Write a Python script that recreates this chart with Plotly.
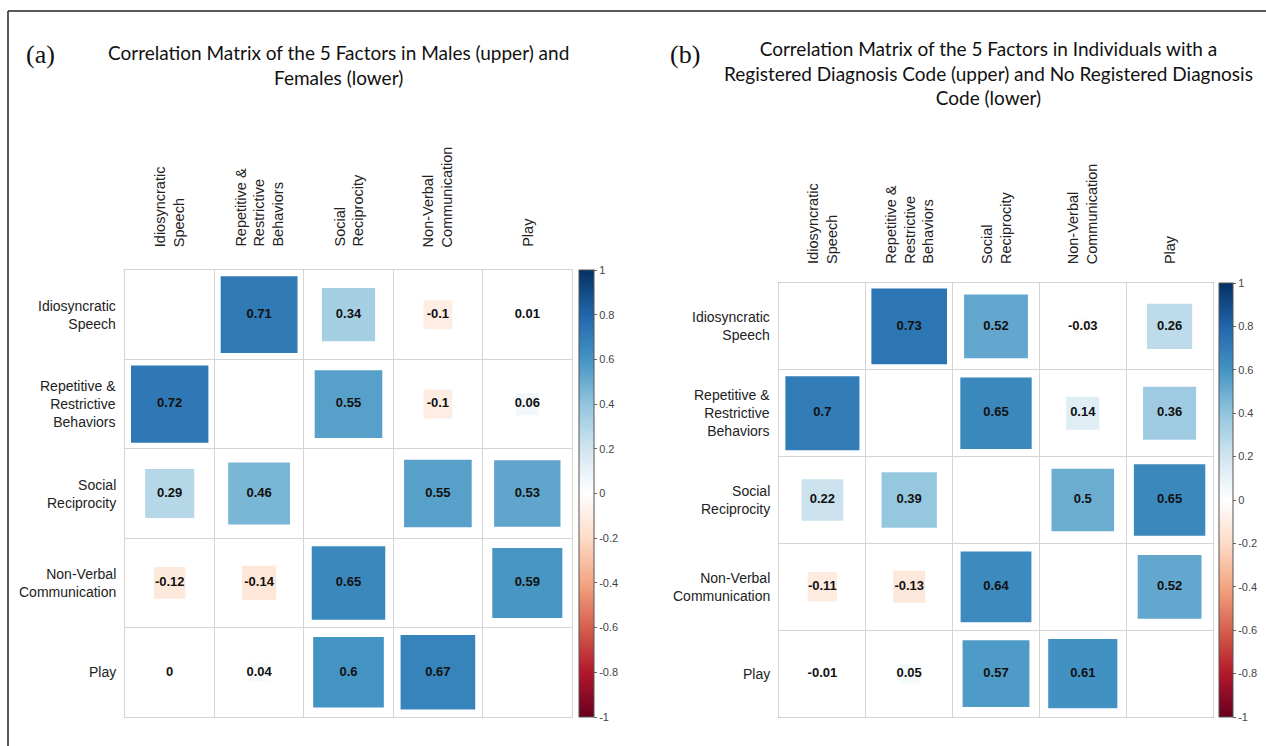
import numpy as np
import plotly.graph_objects as go

W, H = 1266, 746

factors = ["Idiosyncratic Speech", "Repetitive & Restrictive Behaviors",
           "Social Reciprocity", "Non-Verbal Communication", "Play"]
row_labels = ["Idiosyncratic<br>Speech", "Repetitive &<br>Restrictive<br>Behaviors",
              "Social<br>Reciprocity", "Non-Verbal<br>Communication", "Play"]
col_labels = row_labels

# Panel (a): upper = males, lower = females (None on diagonal)
corr_a = [
    [None, 0.71, 0.34, -0.1, 0.01],
    [0.72, None, 0.55, -0.1, 0.06],
    [0.29, 0.46, None, 0.55, 0.53],
    [-0.12, -0.14, 0.65, None, 0.59],
    [0, 0.04, 0.6, 0.67, None],
]
# Panel (b): upper = registered diagnosis code, lower = no registered code
corr_b = [
    [None, 0.73, 0.52, -0.03, 0.26],
    [0.7, None, 0.65, 0.14, 0.36],
    [0.22, 0.39, None, 0.5, 0.65],
    [-0.11, -0.13, 0.64, None, 0.52],
    [-0.01, 0.05, 0.57, 0.61, None],
]

title_a = "Correlation Matrix of the 5 Factors in Males (upper) and<br>Females (lower)"
title_b = ("Correlation Matrix of the 5 Factors in Individuals with a<br>"
           "Registered Diagnosis Code (upper) and No Registered Diagnosis<br>Code (lower)")

cbar_ticks = [1, 0.8, 0.6, 0.4, 0.2, 0, -0.2, -0.4, -0.6, -0.8, -1]
cbar_ticktext = ["1", "0.8", "0.6", "0.4", "0.2", "0", "-0.2", "-0.4", "-0.6", "-0.8", "-1"]

rdbu = ["#67001F", "#B2182B", "#D6604D", "#F4A582", "#FDDBC7", "#FFFFFF",
        "#D1E5F0", "#92C5DE", "#4393C3", "#2166AC", "#053061"]
colorscale = [[i / 10, c] for i, c in enumerate(rdbu)]


def fx(px):
    return px / W


def fy(py):
    return 1 - py / H


panels = [
    dict(mat=corr_a, xd=(125, 572), yd=(270, 717), xa="x", ya="y", cax="coloraxis",
         cb_left=579, cb_th=15, rowlab_right=118, collab_bottom=249,
         tag="(a)", tag_xy=(40, 55), title=title_a, title_xy=(338, 65)),
    dict(mat=corr_b, xd=(779, 1213), yd=(283, 717), xa="x2", ya="y2", cax="coloraxis2",
         cb_left=1219, cb_th=14, rowlab_right=772, collab_bottom=266,
         tag="(b)", tag_xy=(685, 55), title=title_b, title_xy=(988, 73)),
]

fig = go.Figure()
annotations = []
layout = dict(width=W, height=H, margin=dict(l=0, r=0, t=0, b=0),
              paper_bgcolor="white", plot_bgcolor="white", showlegend=False)

row_font = dict(family="Liberation Sans, Arial", size=14, color="#222")
col_font = dict(family="Liberation Sans, Arial", size=14.5, color="#222")

for k, p in enumerate(panels):
    n = len(factors)
    cell = (p["xd"][1] - p["xd"][0]) / n
    xs, ys, vals, sizes, texts = [], [], [], [], []
    for i in range(n):
        for j in range(n):
            v = p["mat"][i][j]
            if v is None:
                continue
            xs.append(j + 1)
            ys.append(i + 1)
            vals.append(v)
            sizes.append(float(np.sqrt(abs(v)) * cell * 1.02))
            texts.append(f"{v:g}")
    fig.add_trace(go.Scatter(
        x=xs, y=ys, mode="markers", xaxis=p["xa"], yaxis=p["ya"], opacity=1,
        marker=dict(symbol="square", size=sizes, color=vals, coloraxis=p["cax"],
                    opacity=1, line=dict(width=0)),
        hoverinfo="skip"))
    fig.add_trace(go.Scatter(
        x=xs, y=ys, mode="text", text=texts, xaxis=p["xa"], yaxis=p["ya"],
        textfont=dict(family="Liberation Sans, Arial", size=13, color="#111", weight="bold"),
        textposition="middle center", hoverinfo="skip"))

    suffix = "" if k == 0 else "2"
    grid_vals = [g + 0.5 for g in range(0, n + 1)]
    layout["xaxis" + suffix] = dict(
        domain=[fx(p["xd"][0]), fx(p["xd"][1])], range=[0.5, n + 0.5],
        tickvals=grid_vals, showticklabels=False, ticks="", showgrid=True,
        gridcolor="#d4d4d4", gridwidth=1, zeroline=False, showline=True, mirror=True,
        linecolor="#d4d4d4", linewidth=1, anchor="y" + suffix, fixedrange=True)
    layout["yaxis" + suffix] = dict(
        domain=[fy(p["yd"][1]), fy(p["yd"][0])], range=[n + 0.5, 0.5],
        tickvals=grid_vals, showticklabels=False, ticks="", showgrid=True,
        gridcolor="#d4d4d4", gridwidth=1, zeroline=False, showline=True, mirror=True,
        linecolor="#d4d4d4", linewidth=1, anchor="x" + suffix, fixedrange=True)
    layout[p["cax"]] = dict(
        cmin=-1, cmax=1, colorscale=colorscale,
        colorbar=dict(x=fx(p["cb_left"]), xanchor="left", xpad=0, ypad=0,
                      y=fy((p["yd"][0] + p["yd"][1]) / 2), yanchor="middle",
                      lenmode="pixels", len=p["yd"][1] - p["yd"][0],
                      thicknessmode="pixels", thickness=p["cb_th"],
                      tickvals=cbar_ticks, ticktext=cbar_ticktext,
                      ticks="outside", ticklen=3, tickcolor="#666",
                      tickfont=dict(family="Liberation Sans, Arial", size=11, color="#444"),
                      outlinecolor="#555", outlinewidth=1))

    for i in range(n):
        annotations.append(dict(
            text=row_labels[i], xref="paper", x=fx(p["rowlab_right"]), xanchor="right",
            yref=p["ya"], y=i + 1, yanchor="middle", align="right",
            showarrow=False, font=row_font))
        annotations.append(dict(
            text=col_labels[i], xref=p["xa"], x=i + 1, xanchor="center",
            yref="paper", y=fy(p["collab_bottom"]), yanchor="bottom", align="left",
            textangle=-90, showarrow=False, font=col_font))

    annotations.append(dict(
        text=p["tag"], xref="paper", yref="paper", x=fx(p["tag_xy"][0]), y=fy(p["tag_xy"][1]),
        xanchor="center", yanchor="middle", showarrow=False,
        font=dict(family="Liberation Serif, Times New Roman", size=26, color="#111")))
    annotations.append(dict(
        text=p["title"], xref="paper", yref="paper", x=fx(p["title_xy"][0]),
        y=fy(p["title_xy"][1]), xanchor="center", yanchor="middle", align="center",
        showarrow=False, font=dict(family="Lato, Open Sans", size=19, color="#111")))

layout["annotations"] = annotations
layout["shapes"] = [
    dict(type="line", xref="paper", yref="paper", x0=fx(8), x1=1, y0=fy(11), y1=fy(11),
         line=dict(color="#222", width=1.5)),
    dict(type="line", xref="paper", yref="paper", x0=fx(8), x1=fx(8), y0=fy(11), y1=0,
         line=dict(color="#222", width=1.5)),
]
fig.update_layout(**layout)
fig.write_html(
    "out.html",
    config={"displayModeBar": False},
    post_script="document.documentElement.style.margin='0';"
                "document.body.style.margin='0';"
                "document.body.style.overflow='hidden';",
)
